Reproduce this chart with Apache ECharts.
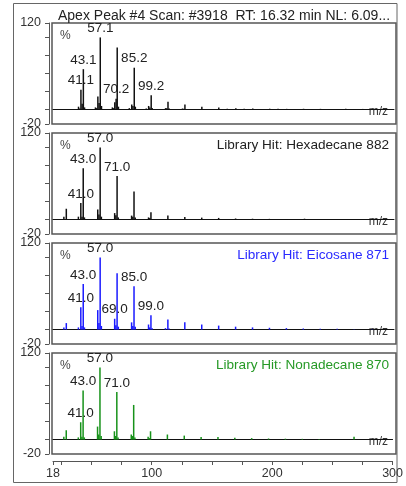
<!DOCTYPE html>
<html>
<head>
<meta charset="utf-8">
<script src="https://cdn.jsdelivr.net/npm/echarts@6/dist/echarts.min.js"></script>
<style>
  html, body { margin: 0; padding: 0; background: #fff; }
  #chart { width: 406px; height: 486px; }
</style>
</head>
<body>
<div id="chart"></div>
<script>
// Measured scan (apex of peak #4), relative abundance in %
const scanMz = [39.1, 40.1, 41.1, 42.1, 43.1, 44.1, 53.1, 54.1, 55.1, 56.1, 57.1, 58.1,
  67.1, 68.1, 69.1, 70.2, 71.1, 72.1, 81.1, 83.1, 84.1, 85.2, 86.1, 95.1, 97.1, 98.1,
  99.2, 100.1, 111.1, 112.1, 113.1, 114.1, 125.1, 126.1, 127.1, 141.1, 155.1, 162.1,
  169.2, 176.1, 183.2, 190.1, 197.2, 204.1, 211.2, 218.1, 225.2, 232.1, 239.2, 246.1,
  253.2, 260.1, 267.2, 274.1, 281.2, 288.1, 295.1];
const scanInt = [4, 1.5, 27.5, 8, 56, 3, 3, 2, 18, 9, 100, 5,
  3, 2, 10, 15, 86, 4, 2, 7, 5, 58, 4, 1.5, 5, 3,
  20, 2, 2, 2, 11, 1.5, 1.5, 1, 7, 4, 3, 1,
  2, 1.2, 1.5, 0.8, 1.2, 1, 1, 0.8, 1.1, 0.7, 1, 0.9,
  0.8, 1, 0.7, 0.9, 0.8, 0.7, 0.8];
const scanLabels = [41.1, 43.1, 57.1, 70.2, 85.2, 99.2];

// Library spectrum: Hexadecane
const hexMz = [27, 29, 39, 41, 42, 43, 44, 55, 56, 57, 58, 69, 70, 71, 72, 83, 84, 85, 86,
  97, 98, 99, 113, 127, 141, 155, 169, 183, 197, 211, 226];
const hexInt = [4, 15, 4, 23, 4, 71, 3, 14, 7, 100, 4, 9, 6, 60.5, 3, 5.5, 4, 39, 3,
  3, 2, 10, 5.5, 3.7, 2.7, 2.3, 1.5, 1.2, 1, 0.6, 1.2];
const hexLabels = [41, 43, 57, 71];

// Library spectrum: Eicosane
const eicMz = [27, 29, 39, 41, 42, 43, 44, 55, 56, 57, 58, 69, 70, 71, 72, 83, 84, 85, 86,
  97, 98, 99, 100, 111, 113, 114, 127, 141, 155, 169, 183, 197, 211, 225, 239, 253, 267, 282];
const eicInt = [3, 9, 3, 31, 5, 63, 3, 27, 9, 100, 5, 15, 6, 78, 4, 10, 5, 60, 4,
  7, 3, 20, 2, 2, 14, 1.5, 10, 7, 5.5, 4, 3, 2.5, 2, 1.5, 1.2, 1, 0.6, 0.5];
const eicLabels = [41, 43, 57, 69, 85, 99];

// Library spectrum: Nonadecane
const nonMz = [27, 29, 39, 41, 42, 43, 44, 55, 56, 57, 58, 69, 70, 71, 72, 83, 84, 85, 86,
  97, 98, 99, 113, 127, 141, 155, 169, 183, 197, 211, 225, 239, 268];
const nonInt = [4, 13, 3, 24, 4, 68, 3, 18, 7, 100, 5, 11.5, 5, 66, 3, 7, 5, 48, 3,
  4, 2, 11.5, 7, 5.5, 3.7, 3.7, 2.5, 2, 1.5, 1.2, 1, 0.8, 4];
const nonLabels = [41, 43, 57, 71];

const titleText = 'Apex Peak #4 Scan: #3918  RT: 16.32 min NL: 6.09...';
const hitTitles = ['', 'Library Hit: Hexadecane 882', 'Library Hit: Eicosane 871', 'Library Hit: Nonadecane 870'];

// Axis ticks and labels
const yTickValues = [-20, 0, 25, 50, 75, 100, 120];
const yLabelValues = [-20, 120];
const xTickValues = [18, 25, 50, 75, 100, 125, 150, 175, 200, 225, 250, 275, 300];
const xLabelValues = [18, 100, 200, 300];

const FONT = '"Liberation Sans", Arial, sans-serif';
const panels = [
  { mz: scanMz, ab: scanInt, labels: scanLabels, color: '#111', hitColor: '#222' },
  { mz: hexMz, ab: hexInt, labels: hexLabels, color: '#111', hitColor: '#222' },
  { mz: eicMz, ab: eicInt, labels: eicLabels, color: '#1a1aff', hitColor: '#2a2aff' },
  { mz: nonMz, ab: nonInt, labels: nonLabels, color: '#17921a', hitColor: '#279a27' }
];

const GRID_LEFT = 53, GRID_RIGHT = 12, PANEL_H = 101, PANEL_TOP0 = 23, PANEL_STEP = 110;
const Y_MIN = -20, Y_MAX = 120;

const grids = [], xAxes = [], yAxes = [], series = [], graphics = [];

panels.forEach((p, i) => {
  const top = PANEL_TOP0 + PANEL_STEP * i;
  const zeroY = top + PANEL_H * Y_MAX / (Y_MAX - Y_MIN);
  grids.push({ left: GRID_LEFT, right: GRID_RIGHT, top: top, height: PANEL_H });

  // zero line of each panel
  xAxes.push({
    gridIndex: i, type: 'value', min: 18, max: 300,
    axisLine: { show: true, onZero: true, lineStyle: { color: '#111', width: 1 } },
    axisTick: { show: false }, axisLabel: { show: false }, splitLine: { show: false }
  });

  yAxes.push({
    gridIndex: i, type: 'value', min: Y_MIN, max: Y_MAX, offset: 4,
    axisLine: { show: true, lineStyle: { color: '#555', width: 1 } },
    axisTick: { show: true, length: 4, customValues: yTickValues, lineStyle: { color: '#555' } },
    axisLabel: { show: true, customValues: yLabelValues, margin: 8, fontSize: 12.5,
      fontFamily: FONT, color: '#333' },
    splitLine: { show: false }
  });

  series.push({
    type: 'bar', xAxisIndex: i, yAxisIndex: i, barWidth: 1.5, silent: true,
    itemStyle: { color: p.color },
    data: p.mz.map((m, k) => {
      const item = { value: [m, p.ab[k]] };
      if (p.labels.indexOf(m) >= 0) {
        item.label = {
          show: true, position: 'top', distance: 2,
          formatter: m.toFixed(1), fontSize: 13.5, fontFamily: FONT, color: '#222'
        };
      }
      return item;
    })
  });

  // panel frame
  graphics.push({
    type: 'rect', silent: true,
    shape: { x: 52, y: top, width: 344, height: PANEL_H },
    style: { fill: null, stroke: '#555', lineWidth: 1.5 }
  });
  graphics.push({
    type: 'text', silent: true, x: 60, y: top + 13,
    style: { text: '%', font: '12px ' + FONT, fill: '#444', verticalAlign: 'middle' }
  });
  graphics.push({
    type: 'text', silent: true, x: 388, y: zeroY + 2,
    style: { text: 'm/z', font: '12px ' + FONT, fill: '#333', align: 'right', verticalAlign: 'middle' }
  });
  if (hitTitles[i]) {
    graphics.push({
      type: 'text', silent: true, x: 389, y: top + 12,
      style: { text: hitTitles[i], font: '13.6px ' + FONT, fill: p.hitColor, align: 'right', verticalAlign: 'middle' }
    });
  }
});

// shared m/z axis under the last panel
xAxes.push({
  gridIndex: 3, type: 'value', min: 18, max: 300, position: 'bottom', offset: 7,
  axisLine: { show: true, onZero: false, lineStyle: { color: '#555', width: 1 } },
  axisTick: { show: true, length: 4, customValues: xTickValues, lineStyle: { color: '#555' } },
  axisLabel: { show: true, customValues: xLabelValues, margin: 6, fontSize: 12.5,
    fontFamily: FONT, color: '#333' },
  splitLine: { show: false }
});

// outer frame
graphics.push({
  type: 'rect', silent: true,
  shape: { x: 13.5, y: 3.5, width: 383.5, height: 479 },
  style: { fill: null, stroke: '#666', lineWidth: 1 }
});

const chart = echarts.init(document.getElementById('chart'), null, { renderer: 'canvas' });
chart.setOption({
  animation: false,
  backgroundColor: '#fff',
  title: {
    text: titleText, left: 53, top: 4,
    textStyle: { fontSize: 14, fontWeight: 'normal', fontFamily: FONT, color: '#222' }
  },
  grid: grids,
  xAxis: xAxes,
  yAxis: yAxes,
  series: series,
  graphic: graphics
});
</script>
</body>
</html>
